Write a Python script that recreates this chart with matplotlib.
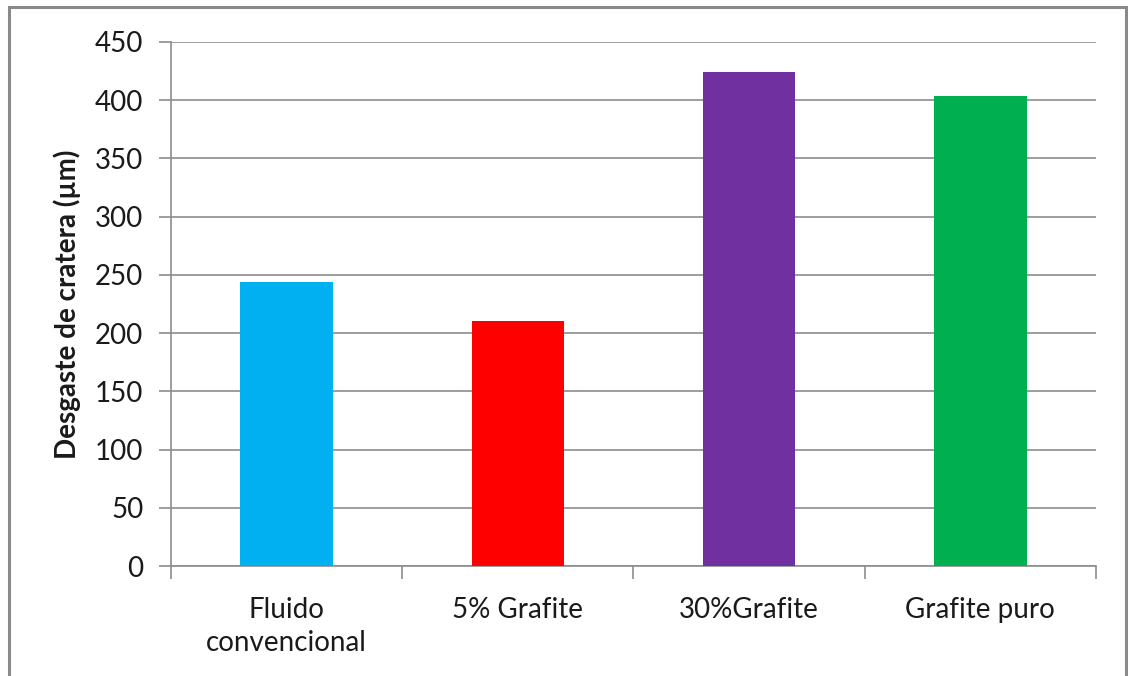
import matplotlib.pyplot as plt
from matplotlib.patches import Rectangle

categorias = ["Fluido\nconvencional", "5% Grafite", "30%Grafite", "Grafite puro"]
desgaste = [244, 210, 424, 404]
cores = ["#00B0F0", "#FF0000", "#7030A0", "#00B050"]
yticks = [0, 50, 100, 150, 200, 250, 300, 350, 400, 450]

plt.rcParams["font.family"] = ["Lato", "DejaVu Sans"]

fig = plt.figure(figsize=(11.28, 6.76), dpi=100)
ax = fig.add_axes([0.1516, 0.1627, 0.82, 0.7752])

x = range(len(categorias))
ax.bar(x, desgaste, width=0.40, color=cores, zorder=3)

ax.set_xlim(-0.5, len(categorias) - 0.5)
ax.set_ylim(0, 450)
ax.set_yticks(yticks)
ax.yaxis.grid(True, color="#8c8c8c", linewidth=1.2, zorder=0)
ax.tick_params(axis="y", length=9, width=1.2, color="#8c8c8c",
               labelsize=20, labelcolor="#1a1a1a", pad=11)

ax.set_xticks(list(x))
ax.set_xticklabels(categorias, fontsize=20, color="#1a1a1a", linespacing=1.35)
ax.tick_params(axis="x", length=0, pad=22)
ax.set_xticks([i - 0.5 for i in range(len(categorias) + 1)], minor=True)
ax.tick_params(axis="x", which="minor", length=9, width=1.2, color="#8c8c8c")

for lado in ["top", "right"]:
    ax.spines[lado].set_visible(False)
for lado in ["left", "bottom"]:
    ax.spines[lado].set_color("#8c8c8c")
    ax.spines[lado].set_linewidth(1.2)

ax.set_ylabel("Desgaste de cratera (µm)", fontsize=20, fontweight="bold",
              color="#1a1a1a", labelpad=10)

# moldura cinza em volta do gráfico
moldura = Rectangle((9 / 1128, -0.05), 1117 / 1128, 1.05 - 7 / 676,
                    transform=fig.transFigure, fill=False,
                    edgecolor="#8a8a8a", linewidth=2.2)
fig.patches.append(moldura)

fig.savefig("out.png", dpi=100)
